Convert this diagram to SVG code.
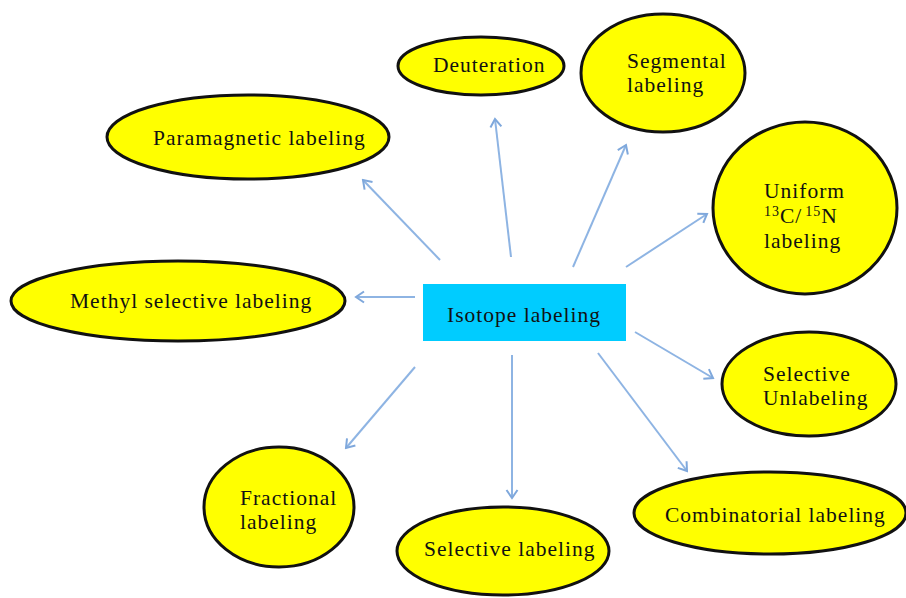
<svg xmlns="http://www.w3.org/2000/svg" width="906" height="598" viewBox="0 0 906 598">
<style>
.node ellipse{fill:#FFFF00;stroke:#111;stroke-width:3}
text{font-family:"Liberation Serif","Times New Roman",serif;font-size:21.5px;letter-spacing:1px;fill:#111}
.conn line{stroke:#8EB4E3;stroke-width:2;fill:none}
.sup{font-size:14px}
</style>
<defs>
<marker id="ah" viewBox="-10 -7 12 14" markerWidth="12" markerHeight="14" refX="0" refY="0" orient="auto" markerUnits="userSpaceOnUse">
<path d="M-8,-5.5 L0,0 L-8,5.5" fill="none" stroke="#7FA8DC" stroke-width="2"/>
</marker>
</defs>
<rect width="906" height="598" fill="#fff"/>
<g class="conn">
<line x1="440" y1="260" x2="363" y2="180" marker-end="url(#ah)"/>
<line x1="415" y1="297" x2="356" y2="297" marker-end="url(#ah)"/>
<line x1="511" y1="257" x2="495" y2="119" marker-end="url(#ah)"/>
<line x1="573" y1="267" x2="626" y2="145" marker-end="url(#ah)"/>
<line x1="626" y1="267" x2="707" y2="214" marker-end="url(#ah)"/>
<line x1="635" y1="332" x2="713" y2="378" marker-end="url(#ah)"/>
<line x1="598" y1="353" x2="687" y2="471" marker-end="url(#ah)"/>
<line x1="512" y1="355" x2="512" y2="498" marker-end="url(#ah)"/>
<line x1="415" y1="367" x2="346" y2="448" marker-end="url(#ah)"/>
</g>
<g id="isotope">
<rect x="423" y="284" width="203" height="57" fill="#00CCFF"/>
<text x="447" y="322">Isotope labeling</text>
</g>
<g id="deuteration" class="node">
<ellipse cx="481" cy="66" rx="83" ry="29"/>
<text x="433" y="72">Deuteration</text>
</g>
<g id="segmental" class="node">
<ellipse cx="663" cy="73" rx="82" ry="59"/>
<text x="627" y="68">Segmental</text>
<text x="627" y="92">labeling</text>
</g>
<g id="paramagnetic" class="node">
<ellipse cx="248" cy="137" rx="141" ry="42"/>
<text x="153" y="145">Paramagnetic labeling</text>
</g>
<g id="methyl" class="node">
<ellipse cx="178" cy="301" rx="167" ry="40"/>
<text x="70" y="308">Methyl selective labeling</text>
</g>
<g id="uniform" class="node">
<ellipse cx="805" cy="208" rx="92" ry="86"/>
<text x="764" y="198">Uniform</text>
<text x="764" y="223"><tspan class="sup" dy="-7">13</tspan><tspan dy="7">C/</tspan><tspan class="sup" dx="3" dy="-7">15</tspan><tspan dy="7">N</tspan></text>
<text x="764" y="248">labeling</text>
</g>
<g id="unlabeling" class="node">
<ellipse cx="809" cy="384" rx="87" ry="52"/>
<text x="763" y="381">Selective</text>
<text x="763" y="405">Unlabeling</text>
</g>
<g id="combinatorial" class="node">
<ellipse cx="770" cy="513" rx="136" ry="41"/>
<text x="665" y="522">Combinatorial labeling</text>
</g>
<g id="fractional" class="node">
<ellipse cx="279" cy="507" rx="75" ry="60"/>
<text x="240" y="505">Fractional</text>
<text x="240" y="529">labeling</text>
</g>
<g id="selective" class="node">
<ellipse cx="503" cy="551" rx="106" ry="44"/>
<text x="424" y="556">Selective labeling</text>
</g>
</svg>
